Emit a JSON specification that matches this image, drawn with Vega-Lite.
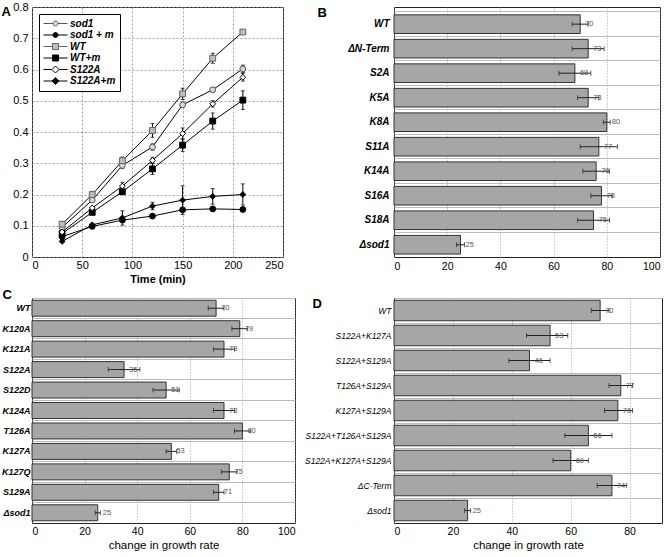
{
  "$schema": "https://vega.github.io/schema/vega-lite/v6.json",
  "background": "white",
  "padding": {"left": 0, "top": 0, "right": 0, "bottom": 0},
  "columns": 2,
  "spacing": {"row": 2, "column": 8},
  "align": "each",
  "bounds": "full",
  "config": {
    "font": "Liberation Sans",
    "view": {"stroke": "#222", "strokeWidth": 1},
    "axis": {"labelColor": "black", "titleColor": "black", "labelFontSize": 11, "domain": false, "ticks": false, "gridColor": "#888", "gridDash": [2, 2], "gridWidth": 0.8}
  },
  "datasets": {
    "growth": [
      {"s": "sod1", "t": 30, "v": 0.095},
      {"s": "sod1", "t": 60, "v": 0.182},
      {"s": "sod1", "t": 90, "v": 0.293, "lo": 0.283, "hi": 0.303},
      {"s": "sod1", "t": 120, "v": 0.352, "lo": 0.342, "hi": 0.362},
      {"s": "sod1", "t": 150, "v": 0.487, "lo": 0.479, "hi": 0.495},
      {"s": "sod1", "t": 180, "v": 0.535, "lo": 0.528, "hi": 0.542},
      {"s": "sod1", "t": 210, "v": 0.602, "lo": 0.59, "hi": 0.614},
      {"s": "sod1 + m", "t": 30, "v": 0.065},
      {"s": "sod1 + m", "t": 60, "v": 0.098},
      {"s": "sod1 + m", "t": 90, "v": 0.118},
      {"s": "sod1 + m", "t": 120, "v": 0.131},
      {"s": "sod1 + m", "t": 150, "v": 0.151, "lo": 0.146, "hi": 0.156},
      {"s": "sod1 + m", "t": 180, "v": 0.154},
      {"s": "sod1 + m", "t": 210, "v": 0.152},
      {"s": "WT", "t": 30, "v": 0.105, "lo": 0.097, "hi": 0.113},
      {"s": "WT", "t": 60, "v": 0.2, "lo": 0.19, "hi": 0.21},
      {"s": "WT", "t": 90, "v": 0.308, "lo": 0.296, "hi": 0.32},
      {"s": "WT", "t": 120, "v": 0.405, "lo": 0.383, "hi": 0.427},
      {"s": "WT", "t": 150, "v": 0.522, "lo": 0.504, "hi": 0.54},
      {"s": "WT", "t": 180, "v": 0.636, "lo": 0.62, "hi": 0.652},
      {"s": "WT", "t": 210, "v": 0.72, "lo": 0.714, "hi": 0.726},
      {"s": "WT+m", "t": 30, "v": 0.075},
      {"s": "WT+m", "t": 60, "v": 0.143, "lo": 0.135, "hi": 0.151},
      {"s": "WT+m", "t": 90, "v": 0.209, "lo": 0.201, "hi": 0.217},
      {"s": "WT+m", "t": 120, "v": 0.282, "lo": 0.264, "hi": 0.3},
      {"s": "WT+m", "t": 150, "v": 0.358, "lo": 0.338, "hi": 0.378},
      {"s": "WT+m", "t": 180, "v": 0.435, "lo": 0.409, "hi": 0.461},
      {"s": "WT+m", "t": 210, "v": 0.502, "lo": 0.472, "hi": 0.532},
      {"s": "S122A", "t": 30, "v": 0.08},
      {"s": "S122A", "t": 60, "v": 0.157},
      {"s": "S122A", "t": 90, "v": 0.227, "lo": 0.215, "hi": 0.239},
      {"s": "S122A", "t": 120, "v": 0.309, "lo": 0.299, "hi": 0.319},
      {"s": "S122A", "t": 150, "v": 0.395, "lo": 0.377, "hi": 0.413},
      {"s": "S122A", "t": 180, "v": 0.49, "lo": 0.48, "hi": 0.5},
      {"s": "S122A", "t": 210, "v": 0.575, "lo": 0.563, "hi": 0.587},
      {"s": "S122A+m", "t": 30, "v": 0.05},
      {"s": "S122A+m", "t": 60, "v": 0.103},
      {"s": "S122A+m", "t": 90, "v": 0.125, "lo": 0.102, "hi": 0.148},
      {"s": "S122A+m", "t": 120, "v": 0.163, "lo": 0.151, "hi": 0.175},
      {"s": "S122A+m", "t": 150, "v": 0.182, "lo": 0.136, "hi": 0.228},
      {"s": "S122A+m", "t": 180, "v": 0.194, "lo": 0.169, "hi": 0.219},
      {"s": "S122A+m", "t": 210, "v": 0.2, "lo": 0.166, "hi": 0.234}
    ],
    "b": [
      {"g": "WT", "v": 70, "lo": 67, "hi": 73},
      {"g": "ΔN-Term", "v": 73, "lo": 67, "hi": 79},
      {"g": "S2A", "v": 68, "lo": 62, "hi": 74},
      {"g": "K5A", "v": 73, "lo": 69, "hi": 77},
      {"g": "K8A", "v": 80, "lo": 78.7, "hi": 81.3},
      {"g": "S11A", "v": 77, "lo": 70, "hi": 84},
      {"g": "K14A", "v": 76, "lo": 71, "hi": 81},
      {"g": "S16A", "v": 78, "lo": 74, "hi": 82},
      {"g": "S18A", "v": 75, "lo": 69, "hi": 81},
      {"g": "Δsod1", "v": 25, "lo": 23.5, "hi": 26.5}
    ],
    "c": [
      {"g": "WT", "v": 70, "lo": 67, "hi": 73},
      {"g": "K120A", "v": 79, "lo": 76, "hi": 82},
      {"g": "K121A", "v": 73, "lo": 69, "hi": 77},
      {"g": "S122A", "v": 35, "lo": 29, "hi": 41},
      {"g": "S122D", "v": 51, "lo": 46, "hi": 56},
      {"g": "K124A", "v": 73, "lo": 69, "hi": 77},
      {"g": "T126A", "v": 80, "lo": 77, "hi": 83},
      {"g": "K127A", "v": 53, "lo": 51, "hi": 55},
      {"g": "K127Q", "v": 75, "lo": 72, "hi": 78},
      {"g": "S129A", "v": 71, "lo": 69, "hi": 73},
      {"g": "Δsod1", "v": 25, "lo": 24, "hi": 26}
    ],
    "d": [
      {"g": "WT", "v": 70, "lo": 67, "hi": 73},
      {"g": "S122A+K127A", "v": 53, "lo": 45, "hi": 59},
      {"g": "S122A+S129A", "v": 46, "lo": 39, "hi": 53},
      {"g": "T126A+S129A", "v": 77, "lo": 73, "hi": 81},
      {"g": "K127A+S129A", "v": 76, "lo": 71.5, "hi": 81},
      {"g": "S122A+T126A+S129A", "v": 66, "lo": 58, "hi": 74},
      {"g": "S122A+K127A+S129A", "v": 60, "lo": 54, "hi": 66},
      {"g": "ΔC-Term", "v": 74, "lo": 69, "hi": 79},
      {"g": "Δsod1", "v": 25, "lo": 24, "hi": 26}
    ]
  },
  "concat": [
    {
      "width": 251,
      "height": 250,
      "data": {"name": "growth"},
      "resolve": {"scale": {"shape": "independent", "fill": "independent", "stroke": "independent"}},
      "encoding": {
        "x": {"field": "t", "type": "quantitative", "scale": {"domain": [0, 250]},
          "axis": {"values": [0, 50, 100, 150, 200, 250], "title": "Time (min)", "titleFontWeight": "bold", "titleFontSize": 11, "labelPadding": 2, "titlePadding": 3, "grid": true}}
      },
      "layer": [
        {
          "mark": {"type": "line", "color": "black", "strokeWidth": 1},
          "encoding": {
            "y": {"field": "v", "type": "quantitative", "scale": {"domain": [0, 0.8]},
              "axis": {"values": [0, 0.1, 0.2, 0.3, 0.4, 0.5, 0.6, 0.7, 0.8], "format": "~g", "labelOverlap": false, "labelPadding": 4, "grid": true,
                "title": "A", "titleAngle": 0, "titleX": -31, "titleY": -2, "titleAlign": "left", "titleBaseline": "top", "titleFontSize": 13, "titleFontWeight": "bold"}},
            "detail": {"field": "s"}
          }
        },
        {
          "transform": [{"filter": "isValid(datum.lo)"}],
          "mark": {"type": "rule", "color": "black", "strokeWidth": 1},
          "encoding": {
            "y": {"field": "lo", "type": "quantitative",
              "axis": {"values": [0, 0.1, 0.2, 0.3, 0.4, 0.5, 0.6, 0.7, 0.8], "format": "~g", "labelOverlap": false, "labelPadding": 4, "grid": true,
                "title": "A", "titleAngle": 0, "titleX": -31, "titleY": -2, "titleAlign": "left", "titleBaseline": "top", "titleFontSize": 13, "titleFontWeight": "bold"}},
            "y2": {"field": "hi"}
          }
        },
        {
          "transform": [{"filter": "isValid(datum.lo)"}],
          "mark": {"type": "tick", "orient": "horizontal", "color": "black", "size": 4, "thickness": 1},
          "encoding": {
            "y": {"field": "lo", "type": "quantitative",
              "axis": {"values": [0, 0.1, 0.2, 0.3, 0.4, 0.5, 0.6, 0.7, 0.8], "format": "~g", "labelOverlap": false, "labelPadding": 4, "grid": true,
                "title": "A", "titleAngle": 0, "titleX": -31, "titleY": -2, "titleAlign": "left", "titleBaseline": "top", "titleFontSize": 13, "titleFontWeight": "bold"}}
          }
        },
        {
          "transform": [{"filter": "isValid(datum.lo)"}],
          "mark": {"type": "tick", "orient": "horizontal", "color": "black", "size": 4, "thickness": 1},
          "encoding": {
            "y": {"field": "hi", "type": "quantitative",
              "axis": {"values": [0, 0.1, 0.2, 0.3, 0.4, 0.5, 0.6, 0.7, 0.8], "format": "~g", "labelOverlap": false, "labelPadding": 4, "grid": true,
                "title": "A", "titleAngle": 0, "titleX": -31, "titleY": -2, "titleAlign": "left", "titleBaseline": "top", "titleFontSize": 13, "titleFontWeight": "bold"}}
          }
        },
        {
          "mark": {"type": "point", "filled": true, "opacity": 1, "size": 34, "strokeWidth": 1},
          "encoding": {
            "y": {"field": "v", "type": "quantitative",
              "axis": {"values": [0, 0.1, 0.2, 0.3, 0.4, 0.5, 0.6, 0.7, 0.8], "format": "~g", "labelOverlap": false, "labelPadding": 4, "grid": true,
                "title": "A", "titleAngle": 0, "titleX": -31, "titleY": -2, "titleAlign": "left", "titleBaseline": "top", "titleFontSize": 13, "titleFontWeight": "bold"}},
            "shape": {"field": "s", "type": "nominal", "legend": null,
              "scale": {"domain": ["sod1", "sod1 + m", "WT", "WT+m", "S122A", "S122A+m"], "range": ["circle", "circle", "square", "square", "diamond", "diamond"]}},
            "fill": {"field": "s", "type": "nominal", "legend": null,
              "scale": {"domain": ["sod1", "sod1 + m", "WT", "WT+m", "S122A", "S122A+m"], "range": ["#d8d8d8", "black", "#bdbdbd", "black", "white", "black"]}},
            "stroke": {"field": "s", "type": "nominal", "legend": null,
              "scale": {"domain": ["sod1", "sod1 + m", "WT", "WT+m", "S122A", "S122A+m"], "range": ["#555", "black", "#666", "black", "black", "black"]}}
          }
        },
        {
          "transform": [{"filter": "false"}],
          "mark": {"type": "point", "filled": true, "opacity": 1, "strokeWidth": 1},
          "encoding": {
            "y": {"field": "v", "type": "quantitative",
              "axis": {"values": [0, 0.1, 0.2, 0.3, 0.4, 0.5, 0.6, 0.7, 0.8], "format": "~g", "labelOverlap": false, "labelPadding": 4, "grid": true,
                "title": "A", "titleAngle": 0, "titleX": -31, "titleY": -2, "titleAlign": "left", "titleBaseline": "top", "titleFontSize": 13, "titleFontWeight": "bold"}},
            "shape": {"field": "s", "type": "nominal",
              "scale": {"domain": ["sod1", "sod1 + m", "WT", "WT+m", "S122A", "S122A+m"],
                "range": [
                  "M-1,0H0.9M1.9,0H3.8M0.9,0A0.5,0.5,0,1,1,1.9,0A0.5,0.5,0,1,1,0.9,0Z",
                  "M-1,0H0.9M1.9,0H3.8M0.9,0A0.5,0.5,0,1,1,1.9,0A0.5,0.5,0,1,1,0.9,0Z",
                  "M-1,0H0.8M2,0H3.8M0.8,-0.6H2V0.6H0.8Z",
                  "M-1,0H0.8M2,0H3.8M0.8,-0.6H2V0.6H0.8Z",
                  "M-1,0H0.7M2.1,0H3.8M0.7,0L1.4,-0.7L2.1,0L1.4,0.7Z",
                  "M-1,0H0.7M2.1,0H3.8M0.7,0L1.4,-0.7L2.1,0L1.4,0.7Z"
                ]},
              "legend": {"title": null, "orient": "top-left", "offset": 7, "strokeColor": "black", "fillColor": "white", "padding": 4, "rowPadding": 0.5, "symbolSize": 100, "symbolStrokeWidth": 1, "labelFontSize": 10, "labelFontStyle": "italic", "labelFontWeight": "bold", "labelOffset": 16, "labelColor": "black", "cornerRadius": 0}},
            "fill": {"field": "s", "type": "nominal",
              "scale": {"domain": ["sod1", "sod1 + m", "WT", "WT+m", "S122A", "S122A+m"], "range": ["#d8d8d8", "black", "#bdbdbd", "black", "white", "black"]},
              "legend": {"title": null, "orient": "top-left", "offset": 7, "strokeColor": "black", "fillColor": "white", "padding": 4, "rowPadding": 0.5, "symbolSize": 100, "symbolStrokeWidth": 1, "labelFontSize": 10, "labelFontStyle": "italic", "labelFontWeight": "bold", "labelOffset": 16, "labelColor": "black", "cornerRadius": 0}},
            "stroke": {"field": "s", "type": "nominal",
              "scale": {"domain": ["sod1", "sod1 + m", "WT", "WT+m", "S122A", "S122A+m"], "range": ["#555", "black", "#666", "black", "black", "black"]},
              "legend": {"title": null, "orient": "top-left", "offset": 7, "strokeColor": "black", "fillColor": "white", "padding": 4, "rowPadding": 0.5, "symbolSize": 100, "symbolStrokeWidth": 1, "labelFontSize": 10, "labelFontStyle": "italic", "labelFontWeight": "bold", "labelOffset": 16, "labelColor": "black", "cornerRadius": 0}}
          }
        }
      ]
    },
    {
      "width": 266,
      "height": 250,
      "data": {"name": "b"},
      "resolve": {"axis": {"x": "independent", "y": "independent"}},
      "layer": [
        {
          "mark": {"type": "bar", "height": {"band": 0.76}, "fill": "#a6a6a6", "stroke": "#333", "strokeWidth": 1},
          "encoding": {
            "y": {"field": "g", "type": "nominal", "sort": null, "scale": {"paddingInner": 0, "paddingOuter": 0.1, "align": 1},
              "axis": {"labelFontStyle": "italic", "labelFontWeight": "bold", "labelFontSize": 10, "labelPadding": 5, "grid": false,
                "title": "B", "titleAngle": 0, "titleX": -77, "titleY": -1, "titleAlign": "left", "titleBaseline": "top", "titleFontSize": 13, "titleFontWeight": "bold"}},
            "x": {"field": "v", "type": "quantitative", "scale": {"domain": [0, 100]},
              "axis": {"values": [0, 20, 40, 60, 80, 100], "title": null, "labelFontSize": 10.5, "labelPadding": 4, "grid": true, "gridDash": [1, 2]}}
          }
        },
        {
          "mark": {"type": "rule", "color": "#222", "strokeWidth": 1},
          "encoding": {
            "y": {"field": "g", "type": "nominal", "sort": null,
              "axis": {"orient": "left", "labels": false, "title": null, "grid": true, "bandPosition": 0, "gridColor": "#bbb", "gridDash": [], "gridWidth": 1}},
            "x": {"field": "lo", "type": "quantitative", "axis": null},
            "x2": {"field": "hi"}
          }
        },
        {
          "mark": {"type": "tick", "color": "#222", "size": 5, "thickness": 1},
          "encoding": {"y": {"field": "g", "type": "nominal", "sort": null, "axis": null}, "x": {"field": "lo", "type": "quantitative", "axis": null}}
        },
        {
          "mark": {"type": "tick", "color": "#222", "size": 5, "thickness": 1},
          "encoding": {"y": {"field": "g", "type": "nominal", "sort": null, "axis": null}, "x": {"field": "hi", "type": "quantitative", "axis": null}}
        },
        {
          "mark": {"type": "text", "align": "left", "baseline": "middle", "dx": 5, "fontSize": 7.5, "fill": "#555"},
          "encoding": {
            "y": {"field": "g", "type": "nominal", "sort": null, "axis": null},
            "x": {"field": "v", "type": "quantitative", "axis": null},
            "text": {"field": "v", "type": "quantitative"}
          }
        }
      ]
    },
    {
      "width": 263,
      "height": 225,
      "data": {"name": "c"},
      "resolve": {"axis": {"x": "independent", "y": "independent"}},
      "layer": [
        {
          "mark": {"type": "bar", "height": {"band": 0.78}, "fill": "#a6a6a6", "stroke": "#333", "strokeWidth": 1},
          "encoding": {
            "y": {"field": "g", "type": "nominal", "sort": null, "scale": {"paddingInner": 0, "paddingOuter": 0},
              "axis": {"labelFontStyle": "italic", "labelFontWeight": "bold", "labelFontSize": 9, "labelPadding": 2, "grid": false,
                "title": "C", "titleAngle": 0, "titleX": -30, "titleY": -10, "titleAlign": "left", "titleBaseline": "top", "titleFontSize": 13, "titleFontWeight": "bold"}},
            "x": {"field": "v", "type": "quantitative", "scale": {"domain": [0, 100]},
              "axis": {"values": [0, 20, 40, 60, 80, 100], "title": "change in growth rate", "titleFontSize": 11.5, "titleFontWeight": "normal", "titlePadding": 3, "labelFontSize": 10.5, "labelPadding": 3, "grid": true, "gridDash": [1, 2]}}
          }
        },
        {
          "mark": {"type": "rule", "color": "#222", "strokeWidth": 1},
          "encoding": {
            "y": {"field": "g", "type": "nominal", "sort": null,
              "axis": {"orient": "left", "labels": false, "title": null, "grid": true, "bandPosition": 0, "gridColor": "#bbb", "gridDash": [], "gridWidth": 1}},
            "x": {"field": "lo", "type": "quantitative", "axis": null},
            "x2": {"field": "hi"}
          }
        },
        {
          "mark": {"type": "tick", "color": "#222", "size": 5, "thickness": 1},
          "encoding": {"y": {"field": "g", "type": "nominal", "sort": null, "axis": null}, "x": {"field": "lo", "type": "quantitative", "axis": null}}
        },
        {
          "mark": {"type": "tick", "color": "#222", "size": 5, "thickness": 1},
          "encoding": {"y": {"field": "g", "type": "nominal", "sort": null, "axis": null}, "x": {"field": "hi", "type": "quantitative", "axis": null}}
        },
        {
          "mark": {"type": "text", "align": "left", "baseline": "middle", "dx": 5, "fontSize": 7.5, "fill": "#555"},
          "encoding": {
            "y": {"field": "g", "type": "nominal", "sort": null, "axis": null},
            "x": {"field": "v", "type": "quantitative", "axis": null},
            "text": {"field": "v", "type": "quantitative"}
          }
        }
      ]
    },
    {
      "width": 268,
      "height": 225,
      "data": {"name": "d"},
      "resolve": {"axis": {"x": "independent", "y": "independent"}},
      "layer": [
        {
          "mark": {"type": "bar", "height": {"band": 0.82}, "fill": "#a6a6a6", "stroke": "#333", "strokeWidth": 1},
          "encoding": {
            "y": {"field": "g", "type": "nominal", "sort": null, "scale": {"paddingInner": 0, "paddingOuter": 0},
              "axis": {"labelFontStyle": "italic", "labelFontSize": 8.5, "labelPadding": 3, "grid": false,
                "title": "D", "titleAngle": 0, "titleX": -82, "titleY": -1, "titleAlign": "left", "titleBaseline": "top", "titleFontSize": 13, "titleFontWeight": "bold"}},
            "x": {"field": "v", "type": "quantitative", "scale": {"domain": [0, 91], "nice": false},
              "axis": {"values": [0, 20, 40, 60, 80], "title": "change in growth rate", "titleFontSize": 11.5, "titleFontWeight": "normal", "titlePadding": 3, "labelFontSize": 10.5, "labelPadding": 3, "grid": true, "gridDash": [1, 2]}}
          }
        },
        {
          "mark": {"type": "rule", "color": "#222", "strokeWidth": 1},
          "encoding": {
            "y": {"field": "g", "type": "nominal", "sort": null,
              "axis": {"orient": "left", "labels": false, "title": null, "grid": true, "bandPosition": 0, "gridColor": "#bbb", "gridDash": [], "gridWidth": 1}},
            "x": {"field": "lo", "type": "quantitative", "axis": null},
            "x2": {"field": "hi"}
          }
        },
        {
          "mark": {"type": "tick", "color": "#222", "size": 5, "thickness": 1},
          "encoding": {"y": {"field": "g", "type": "nominal", "sort": null, "axis": null}, "x": {"field": "lo", "type": "quantitative", "axis": null}}
        },
        {
          "mark": {"type": "tick", "color": "#222", "size": 5, "thickness": 1},
          "encoding": {"y": {"field": "g", "type": "nominal", "sort": null, "axis": null}, "x": {"field": "hi", "type": "quantitative", "axis": null}}
        },
        {
          "mark": {"type": "text", "align": "left", "baseline": "middle", "dx": 5, "fontSize": 7.5, "fill": "#555"},
          "encoding": {
            "y": {"field": "g", "type": "nominal", "sort": null, "axis": null},
            "x": {"field": "v", "type": "quantitative", "axis": null},
            "text": {"field": "v", "type": "quantitative"}
          }
        }
      ]
    }
  ]
}
